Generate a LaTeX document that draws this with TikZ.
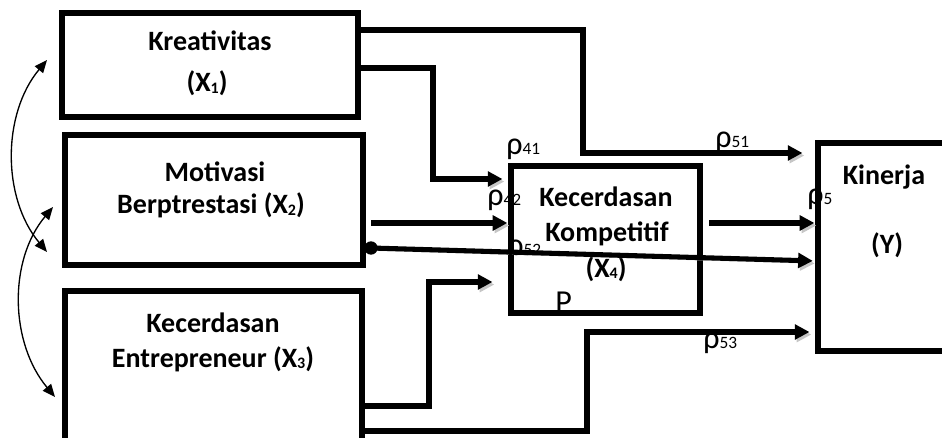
\documentclass[tikz,border=0pt]{standalone}
\usepackage{fontspec}
\setmainfont{Carlito}
\usetikzlibrary{arrows.meta,fit}
\newcommand\idx[1]{\raisebox{-1.2pt}{\fontsize{12}{12}\selectfont #1}}
\newcommand\coef[1]{{\fontsize{24}{24}\selectfont ρ}{\fontsize{13}{13}\selectfont #1}}
\begin{document}
\begin{tikzpicture}[x=0.75pt,y=-0.75pt,
  box/.style={draw, line width=3.8pt, inner sep=0pt, rectangle},
  title/.style={anchor=base, inner sep=0pt, font=\bfseries\fontsize{21}{21}\selectfont},
  coeflbl/.style={anchor=base west, inner sep=0pt},
  shade/.style={preaction={draw=gray!45, transform canvas={shift={(1.4pt,-1.9pt)}}}},
  conn/.style={line width=3.8pt, shade, -{Triangle[length=11pt,width=11pt]}},
  corr/.style={line width=1pt, {Triangle[length=9.5pt,width=8pt]}-{Triangle[length=9.5pt,width=8pt]}}
]
\useasboundingbox (0,0) rectangle (942,438);
\clip (0,0) rectangle (942,438);

% variable boxes
\node[box, fit={(62,13) (358,117)}]  (x1) {};
\node[box, fit={(65,135) (363,265)}] (x2) {};
\node[box, fit={(65,291) (362,470)}] (x3) {};
\node[box, fit={(511,166) (700,313)}] (x4) {};
\node[box, fit={(818,143) (980,351)}] (y)  {};

% box titles
\node[title] (t1a) at (210,51)  {Kreativitas};
\node[title] (t1b) at (207,92)  {(X\idx{1})};
\node[title] (t2a) at (215,182) {Motivasi};
\node[title] (t2b) at (211,214) {Berptrestasi (X\idx{2})};
\node[title] (t3a) at (213,332) {Kecerdasan};
\node[title] (t3b) at (213,367) {Entrepreneur (X\idx{3})};
\node[title] (t4a) at (606,207) {Kecerdasan};
\node[title] (t4b) at (607,242) {Kompetitif};
\node[title] (t4c) at (606,277) {(X\idx{4})};
\node[title] (tya) at (884,185) {Kinerja};
\node[title] (tyb) at (887,253) {(Y)};

% free ends of the paths
\coordinate (s2) at (371,223);
\coordinate (d2) at (371,248);
\coordinate (s4) at (709,223);

% paths X1 -> Y and X1 -> X4
\draw[conn, shorten >=9.75pt] (x1.east |- 0,30) -| (583,153) -- (y.west |- 0,153);
\draw[conn, shorten >=4.5pt]  (x1.east |- 0,68) -| (433,179) -- (x4.west |- 0,179);
% paths X2 -> X4 and X2 -> Y
\draw[conn, shorten >=0.8pt]  (s2) -- (x4.west |- 0,223);
\draw[conn, shorten >=2pt]    (d2) -- (y.west |- 0,261);
\fill (d2) circle (5pt);
% path X4 -> Y
\draw[conn, shorten >=0.8pt]  (s4) -- (y.west |- 0,223);
% paths X3 -> X4 and X3 -> Y
\draw[conn, shorten >=12pt]   (x3.east |- 0,406) -| (429,282) -- (x4.west |- 0,282);
\draw[conn, shorten >=4.5pt]  (x3.east |- 0,431) -| (587,332) -- (y.west |- 0,332);

% path coefficients
\node[coeflbl] (p41) at (506,155) {\coef{41}};
\node[coeflbl] (p42) at (487,206) {\coef{42}};
\node[coeflbl] (p52) at (507,256) {\coef{52}};
\node[coeflbl] (p51) at (715,148) {\coef{51}};
\node[coeflbl] (p5)  at (807,205) {\coef{5}};
\node[coeflbl] (p53) at (703,348) {\coef{53}};
\node[coeflbl, font=\fontsize{24}{24}\selectfont] (pp) at (555,312) {P};

% correlations between the exogenous variables
\coordinate (c1a) at (47,60);
\coordinate (c1b) at (47,252);
\coordinate (c2a) at (53,207);
\coordinate (c2b) at (55,397);
\draw[corr] (c1a) .. controls (2,114) and (2,198) .. (c1b);
\draw[corr] (c2a) .. controls (8,261) and (10,343) .. (c2b);
\end{tikzpicture}
\end{document}
